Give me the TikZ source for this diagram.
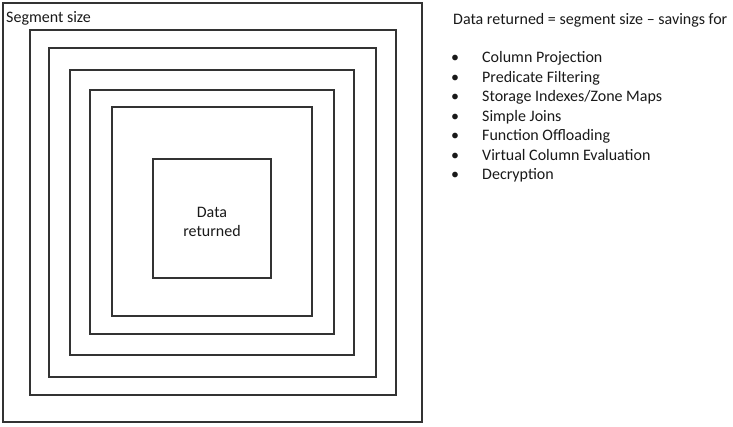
\documentclass[tikz,border=0pt]{standalone}
\usepackage{fontspec}
\setmainfont{Carlito}
\begin{document}
\begin{tikzpicture}[x=1pt,y=-1pt,
  frame/.style={draw=black!80, line width=1.6pt, fill=none},
  lbl/.style={font=\fontsize{16}{18}\selectfont, inner sep=0pt, text=black!90},
  item/.style={lbl, anchor=base west},
  dot/.style={lbl, anchor=base}]
\useasboundingbox (0,0) rectangle (733,427);
% nested frames
\draw[frame] (3,3) rectangle (422,422);
\draw[frame] (30,30) rectangle (396,395);
\draw[frame] (49,48) rectangle (376,377);
\draw[frame] (70,70) rectangle (354,355);
\draw[frame] (90,90) rectangle (334,334);
\draw[frame] (112,107) rectangle (312,316);
\node[frame, minimum width=118pt, minimum height=119pt, inner sep=0pt] (inner) at (212,218.5) {};
\node[lbl, align=center, font=\fontsize{16}{19.5}\selectfont] (innertext) at (212,222) {Data\\returned};
\node[item] (seg) at (6,23) {Segment size};
\node[item] (head) at (453,25) {Data returned = segment size -- savings for};
\foreach \t [count=\i] in {Column Projection, Predicate Filtering, Storage Indexes/Zone Maps, Simple Joins, Function Offloading, Virtual Column Evaluation, Decryption}{
  \node[dot] (b\i) at (455,{63+(\i-1)*19.5}) {•};
  \node[item] (t\i) at (482,{63+(\i-1)*19.5}) {\t};
}
\end{tikzpicture}
\end{document}
